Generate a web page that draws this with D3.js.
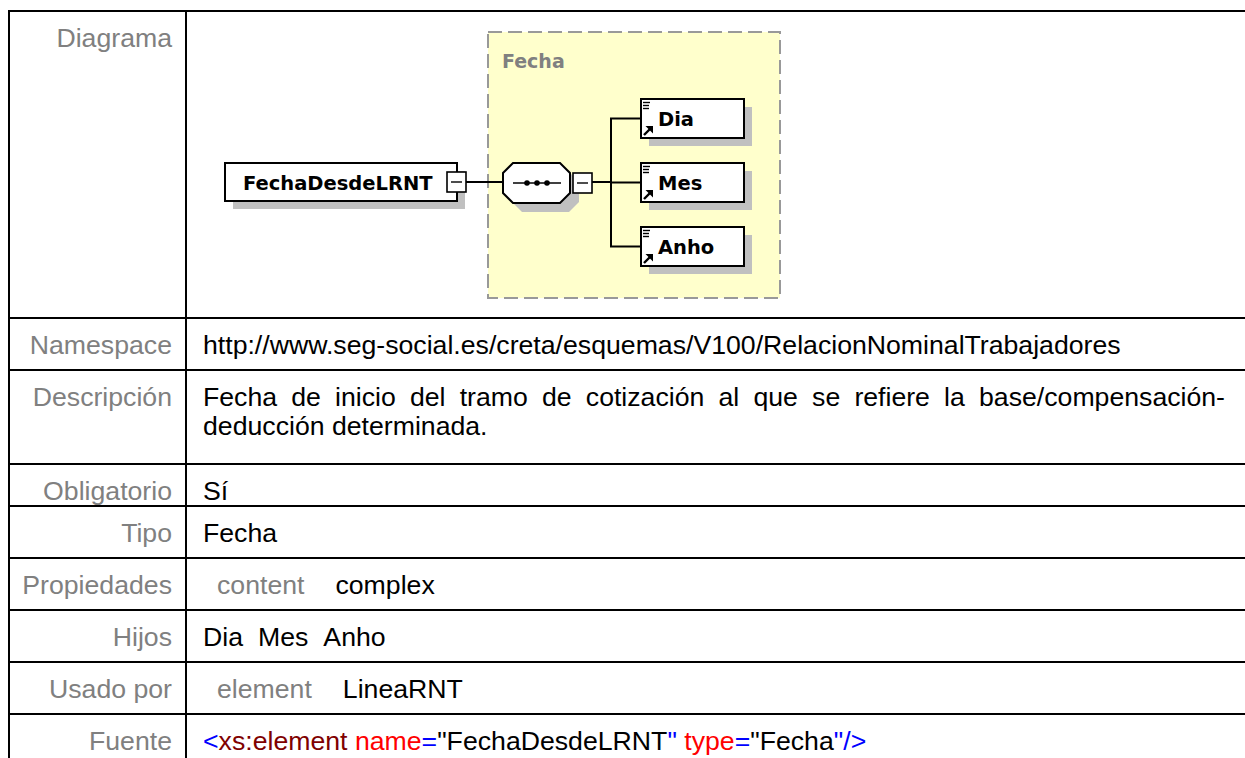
<!DOCTYPE html>
<html><head><meta charset="utf-8">
<script src="https://cdn.jsdelivr.net/npm/d3@7"></script>
<style>body{margin:0;background:#fff;overflow:hidden}</style>
</head><body><svg id="c" width="1245" height="758"></svg>
<script>
// ---------- data ----------
const rowLabels = ["Diagrama","Namespace","Descripción","Obligatorio","Tipo","Propiedades","Hijos","Usado por","Fuente"];
const namespaceText = "http://www.seg-social.es/creta/esquemas/V100/RelacionNominalTrabajadores";
const descriptionLines = ["Fecha de inicio del tramo de cotización al que se refiere la base/compensación-", "deducción determinada."];
const obligatorioText = "Sí";
const tipoText = "Fecha";
const propiedades = [["content","complex"]];
const hijos = ["Dia","Mes","Anho"];
const usadoPor = [["element","LineaRNT"]];
const fuenteTokens = [["tag","<"],["elem","xs:element"],["attr"," name"],["tag","="],["val","\"FechaDesdeLRNT"],["tag","\""],["attr"," type"],["tag","="],["val","\"Fecha"],["tag","\"/>"]];
const rootElement = "FechaDesdeLRNT";
const groupName = "Fecha";
const childElements = ["Dia","Mes","Anho"];

// ---------- layout ----------
const W = 1245, H = 758;
const svg = d3.select("#c");
const tableLeft = 9, tableTop = 11, colX = 186, tableRight = 1260;
const rowHeights = [307, 52, 94, 42, 52, 52, 52, 52, 80];
const rowTops = [tableTop];
rowHeights.forEach((h,i)=>rowTops.push(rowTops[i]+h));
const FONT = "'Liberation Sans', Arial, sans-serif";
const FS = 26.67;
const labelColor = "#808080";
const valX = 203;
const baseOff = 36;

// borders
const grid = svg.append("g").attr("stroke","#000").attr("stroke-width",2);
rowTops.slice(0, rowTops.length-1).forEach(y=>{
  grid.append("line").attr("x1",tableLeft-1).attr("x2",tableRight).attr("y1",y).attr("y2",y);
});
grid.append("line").attr("x1",tableLeft).attr("x2",tableLeft).attr("y1",tableTop-1).attr("y2",H+5);
grid.append("line").attr("x1",colX).attr("x2",colX).attr("y1",tableTop-1).attr("y2",H+5);

// labels
svg.append("g").selectAll("text").data(rowLabels).join("text")
  .attr("x",172).attr("y",(d,i)=>rowTops[i]+baseOff)
  .attr("text-anchor","end").attr("font-family",FONT).attr("font-size",FS)
  .attr("fill",labelColor).text(d=>d);

function valText(x,y,t,color){
  return svg.append("text").attr("x",x).attr("y",y).attr("font-family",FONT)
    .attr("font-size",FS).attr("fill",color||"#000").text(t);
}
// namespace
valText(valX, rowTops[1]+baseOff, namespaceText);
// description (justified first line)
const justifyRight = 1225;
descriptionLines.forEach((line,li)=>{
  const y = rowTops[2]+baseOff+li*29;
  if(li < descriptionLines.length-1){
    const words = line.split(" ");
    const tmp = words.map(w=>valText(0,y,w));
    const widths = tmp.map(t=>t.node().getComputedTextLength());
    const total = d3.sum(widths);
    const gap = (justifyRight-valX-total)/(words.length-1);
    let x = valX;
    tmp.forEach((t,i)=>{ t.attr("x",x); x += widths[i]+gap; });
  } else {
    valText(valX,y,line);
  }
});
// obligatorio, tipo
valText(valX, rowTops[3]+baseOff, obligatorioText);
valText(valX, rowTops[4]+baseOff, tipoText);
// propiedades
function pairRow(rowIdx, pairs){
  pairs.forEach(p=>{
    const a = valText(217, rowTops[rowIdx]+baseOff, p[0], labelColor);
    const w = a.node().getComputedTextLength();
    valText(217+w+31, rowTops[rowIdx]+baseOff, p[1]);
  });
}
pairRow(5, propiedades);
// hijos
{
  let x = valX;
  hijos.forEach(h=>{
    const t = valText(x, rowTops[6]+baseOff, h);
    x += t.node().getComputedTextLength()+15;
  });
}
pairRow(7, usadoPor);
// fuente
{
  const colors = {tag:"#0000ff", elem:"#800000", attr:"#ff0000", val:"#000000"};
  const t = svg.append("text").attr("x",valX).attr("y",rowTops[8]+baseOff)
    .attr("font-family",FONT).attr("font-size",FS).attr("xml:space","preserve")
    .style("white-space","pre");
  fuenteTokens.forEach(tk=>t.append("tspan").attr("fill",colors[tk[0]]).text(tk[1]));
}

// ---------- diagram ----------
const DF = "'DejaVu Sans', Verdana, sans-serif";
const dg = svg.append("g");
const shadow = "#c0c0c0";
const SO = 8;
// group box
const gb = {x:488, y:32, w:292, h:266};
dg.append("rect").attr("x",gb.x).attr("y",gb.y).attr("width",gb.w).attr("height",gb.h)
  .attr("fill","#ffffcc").attr("stroke","#999999").attr("stroke-width",2).attr("stroke-dasharray","14,6");
dg.append("text").attr("x",502).attr("y",68).attr("font-family",DF).attr("font-weight","bold")
  .attr("font-size",19).attr("fill","#808080").text(groupName);

const cy = 182;
// connectors
const conn = dg.append("g").attr("stroke","#000").attr("stroke-width",2).attr("fill","none");
const yChild = d3.scalePoint().domain(childElements).range([118.5, 246.5]);
conn.append("line").attr("x1",466).attr("x2",503).attr("y1",cy).attr("y2",cy);
conn.append("line").attr("x1",592).attr("x2",611).attr("y1",cy).attr("y2",cy);
conn.append("line").attr("x1",611).attr("x2",611).attr("y1",yChild(childElements[0])).attr("y2",yChild(childElements[childElements.length-1]));
childElements.forEach(c=>conn.append("line").attr("x1",610).attr("x2",641).attr("y1",yChild(c)).attr("y2",yChild(c)));

// root element box
const rb = {x:225, y:163, w:232, h:38};
dg.append("rect").attr("x",rb.x+SO).attr("y",rb.y+SO).attr("width",rb.w).attr("height",rb.h).attr("fill",shadow);
dg.append("rect").attr("x",rb.x).attr("y",rb.y).attr("width",rb.w).attr("height",rb.h)
  .attr("fill","#fff").attr("stroke","#000").attr("stroke-width",2);
dg.append("text").attr("x",243).attr("y",cy+8).attr("font-family",DF).attr("font-weight","bold")
  .attr("font-size",19.5).attr("fill","#000").text(rootElement);

function minusBox(x,y){
  dg.append("rect").attr("x",x).attr("y",y).attr("width",19).attr("height",20)
    .attr("fill","#fff").attr("stroke","#000").attr("stroke-width",1.6);
  dg.append("line").attr("x1",x+4).attr("x2",x+15).attr("y1",y+10).attr("y2",y+10)
    .attr("stroke","#000").attr("stroke-width",1.4);
}
minusBox(447,172);

// sequence octagon
function octo(x,y,w,h,c){
  return `M${x+c},${y}H${x+w-c}L${x+w},${y+c}V${y+h-c}L${x+w-c},${y+h}H${x+c}L${x},${y+h-c}V${y+c}Z`;
}
dg.append("path").attr("d",octo(503+9,163+9,67,40,10)).attr("fill",shadow);
dg.append("path").attr("d",octo(503,163,67,40,10)).attr("fill","#fff").attr("stroke","#000").attr("stroke-width",2);
dg.append("line").attr("x1",513).attr("x2",561).attr("y1",cy+1).attr("y2",cy+1).attr("stroke","#000").attr("stroke-width",1.6);
[527,537,547].forEach(x=>dg.append("circle").attr("cx",x).attr("cy",cy+1).attr("r",2.8).attr("fill","#000"));
minusBox(573,173);

// child boxes
childElements.forEach(c=>{
  const y0 = yChild(c)-19.5, x0 = 641, w = 103, h = 39;
  dg.append("rect").attr("x",x0+SO).attr("y",y0+SO).attr("width",w).attr("height",h).attr("fill",shadow);
  dg.append("rect").attr("x",x0).attr("y",y0).attr("width",w).attr("height",h)
    .attr("fill","#fff").attr("stroke","#000").attr("stroke-width",2);
  // text-lines icon
  [3.5,6.5,9.5].forEach((dy,i)=>dg.append("line").attr("x1",x0+2).attr("x2",x0+(i===0?9:8)).attr("y1",y0+dy).attr("y2",y0+dy)
    .attr("stroke","#000").attr("stroke-width",1.4));
  // reference arrow
  const ax = x0+3, ay = y0+h-3;
  dg.append("path").attr("d",`M${ax},${ay}L${ax+6},${ay-6}`).attr("stroke","#000").attr("stroke-width",2.4);
  dg.append("path").attr("d",`M${ax+9},${ay-9}L${ax+9},${ay-1.5}L${ax+1.5},${ay-9}Z`).attr("fill","#000");
  dg.append("text").attr("x",658).attr("y",yChild(c)+7).attr("font-family",DF).attr("font-weight","bold")
    .attr("font-size",19.5).attr("fill","#000").text(c);
});
</script></body></html>
